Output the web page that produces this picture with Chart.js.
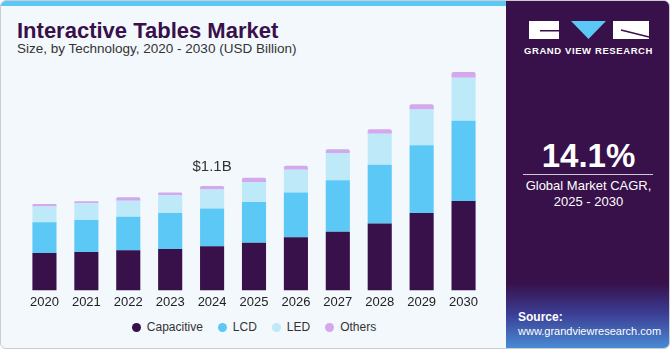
<!DOCTYPE html>
<html>
<head>
<meta charset="utf-8">
<script src="https://cdn.jsdelivr.net/npm/chart.js@4.4.0/dist/chart.umd.min.js"></script>
<style>
  html, body { margin: 0; padding: 0; background: #ffffff; overflow: hidden; }
  #card {
    position: absolute; left: 0; top: 0; width: 668px; height: 347px;
    border: 1px solid #c9ccd1; border-radius: 6px; background: #f3f8fc; overflow: hidden;
    font-family: "Liberation Sans", Arial, sans-serif;
  }
  #topbar { position: absolute; left: 0; top: 0; width: 505px; height: 5px; background: #5bc8f5; }
  #title { position: absolute; left: 16px; top: 17px; font-size: 22px; font-weight: bold; color: #38104a; white-space: nowrap; }
  #subtitle { position: absolute; left: 16px; top: 40px; font-size: 13.5px; color: #333; white-space: nowrap; }
  #chartBox { position: absolute; left: 8px; top: 57px; width: 490px; height: 256px; }
  #legend { position: absolute; top: 319px; left: 0; width: 506px; display: flex; justify-content: center; font-size: 12px; color: #333; }
  #legend span.item { display: inline-flex; align-items: center; margin: 0 7.5px; }
  #legend span.dot { width: 9px; height: 9px; border-radius: 50%; margin-right: 6px; }
  #panel {
    position: absolute; left: 505px; top: 0; width: 165px; height: 349px;
    background: linear-gradient(180deg, #38104a 0px, #38104a 282px, #3b3c92 312px, #4a8fd8 349px);
    color: #fff; text-align: center;
  }
  #brand { position: absolute; left: 0; width: 165px; top: 44px; font-size: 9.5px; font-weight: bold; letter-spacing: 0.6px; }
  #cagr { position: absolute; left: 0; width: 165px; top: 136px; font-size: 33px; font-weight: bold; }
  #rule { position: absolute; left: 17px; width: 130px; top: 173px; height: 1px; background: #cfc6d8; }
  #cagrText { position: absolute; left: 0; width: 165px; top: 177px; font-size: 13px; line-height: 16px; }
  #source { position: absolute; left: 12px; top: 309px; text-align: left; font-size: 11px; line-height: 14px; }
  #source b { font-size: 12px; }
</style>
</head>
<body>
<div id="card">
  <div id="topbar"></div>
  <div id="title">Interactive Tables Market</div>
  <div id="subtitle">Size, by Technology, 2020 - 2030 (USD Billion)</div>
  <div id="chartBox"><canvas id="chart"></canvas></div>
  <div id="legend"></div>
  <div id="panel">
    <svg style="position:absolute;left:0;top:0" width="165" height="44">
      <rect x="23" y="20" width="30" height="18" fill="#fff"/>
      <rect x="34" y="29" width="19" height="1.5" fill="#38104a"/>
      <polygon points="65,20 100,20 82.5,38" fill="#5bc8f5"/>
      <rect x="107" y="20" width="36" height="18" fill="#fff"/>
      <line x1="115" y1="29" x2="143" y2="36" stroke="#38104a" stroke-width="1.5"/>
    </svg>
    <div id="brand">GRAND VIEW RESEARCH</div>
    <div id="cagr">14.1%</div>
    <div id="rule"></div>
    <div id="cagrText">Global Market CAGR,<br>2025 - 2030</div>
    <div id="source"><b>Source:</b><br>www.grandviewresearch.com</div>
  </div>
</div>
<script>
const years = ['2020', '2021', '2022', '2023', '2024', '2025', '2026', '2027', '2028', '2029', '2030'];
const seriesNames = ['Capacitive', 'LCD', 'LED', 'Others'];
const seriesColors = ['#38104a', '#5bc8f5', '#bde9f9', '#d4a8ec'];
const capacitive = [0.394, 0.405, 0.425, 0.436, 0.467, 0.502, 0.560, 0.619, 0.706, 0.816, 0.944];
const lcd = [0.325, 0.339, 0.353, 0.380, 0.398, 0.432, 0.474, 0.543, 0.619, 0.716, 0.847];
const led = [0.166, 0.176, 0.169, 0.187, 0.201, 0.211, 0.239, 0.287, 0.329, 0.377, 0.453];
const others = [0.028, 0.021, 0.035, 0.031, 0.035, 0.045, 0.042, 0.042, 0.048, 0.055, 0.062];
const calloutIndex = 4;
const calloutText = '$1.1B';

const seriesValues = [capacitive, lcd, led, others];

// legend in html so it can sit close under the year labels
const legendEl = document.getElementById('legend');
seriesNames.forEach((name, i) => {
  const item = document.createElement('span');
  item.className = 'item';
  item.innerHTML = '<span class="dot" style="background:' + seriesColors[i] + '"></span>' + name;
  legendEl.appendChild(item);
});

const calloutPlugin = {
  id: 'callout',
  afterDatasetsDraw(chart) {
    const meta = chart.getDatasetMeta(seriesValues.length - 1);
    const bar = meta.data[calloutIndex];
    const ctx = chart.ctx;
    ctx.save();
    ctx.font = '15px "Liberation Sans", Arial, sans-serif';
    ctx.fillStyle = '#333';
    ctx.textAlign = 'center';
    ctx.textBaseline = 'bottom';
    ctx.fillText(calloutText, bar.x, bar.y - 12);
    ctx.restore();
  }
};

new Chart(document.getElementById('chart'), {
  type: 'bar',
  data: {
    labels: years,
    datasets: seriesValues.map((vals, i) => ({
      label: seriesNames[i],
      data: vals,
      backgroundColor: seriesColors[i],
      borderWidth: 0,
      borderRadius: i === seriesValues.length - 1 ? { topLeft: 2, topRight: 2 } : 0,
      borderSkipped: false,
      categoryPercentage: 1,
      barPercentage: 0.575
    }))
  },
  options: {
    responsive: true,
    maintainAspectRatio: false,
    animation: false,
    layout: { padding: { top: 5, left: 14.5, right: 14.5, bottom: 0 } },
    plugins: {
      legend: { display: false },
      tooltip: { enabled: false }
    },
    scales: {
      x: {
        stacked: true,
        grid: { display: false, drawTicks: false },
        border: { display: false },
        ticks: { color: '#222', padding: 4, font: { family: '"Liberation Sans", Arial, sans-serif', size: 13 } }
      },
      y: {
        stacked: true,
        display: false,
        min: 0,
        max: 2.4
      }
    }
  },
  plugins: [calloutPlugin]
});
</script>
</body>
</html>
